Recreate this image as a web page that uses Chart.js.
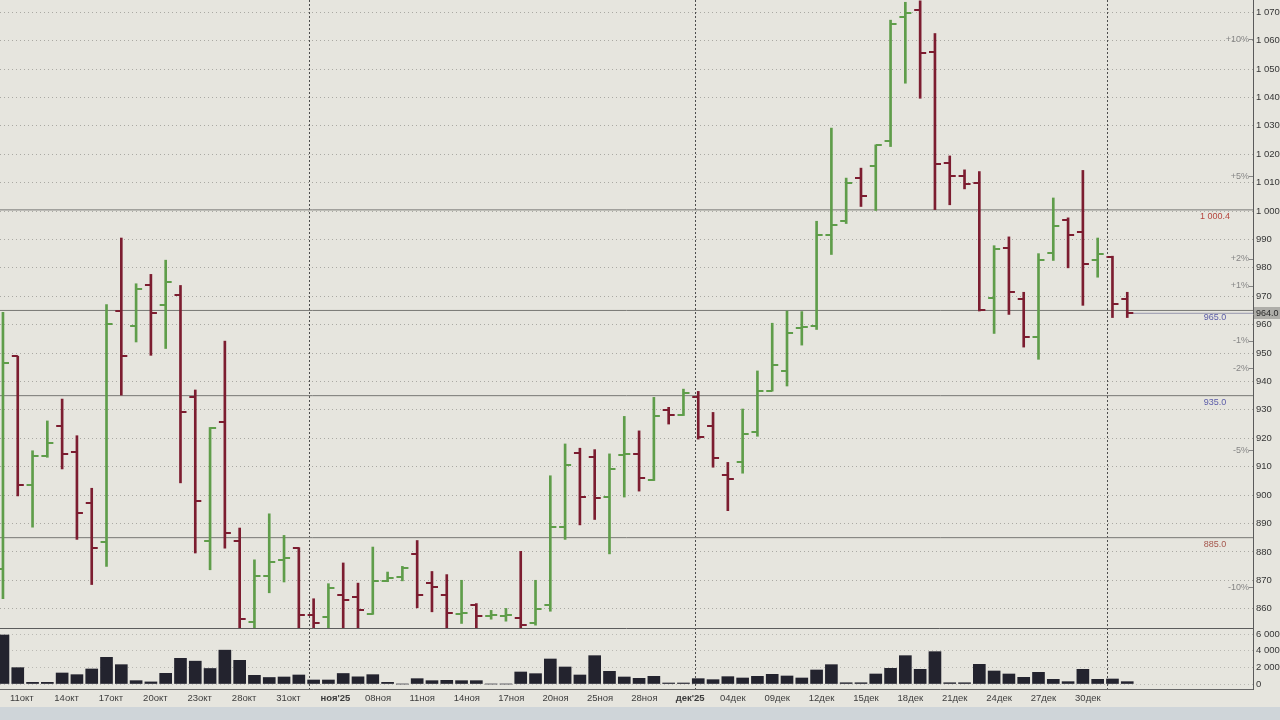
<!DOCTYPE html>
<html lang="ru">
<head>
<meta charset="utf-8">
<title>Бары и объём</title>
<script src="https://cdn.jsdelivr.net/npm/chart.js@4.4.1/dist/chart.umd.min.js"></script>
<style>
    html, body { margin: 0; padding: 0; background: #cfd5d9; }
    #quadro { position: relative; width: 1280px; height: 707px; background: #e6e5de; }
</style>
</head>
<body>
<div id="quadro"><canvas id="grafico"></canvas></div>
<script>
const tickLabels = ['11окт', '14окт', '17окт', '20окт', '23окт', '28окт', '31окт', "ноя'25", '08ноя', '11ноя',
    '14ноя', '17ноя', '20ноя', '25ноя', '28ноя', "дек'25", '04дек', '09дек', '12дек', '15дек',
    '18дек', '21дек', '24дек', '27дек', '30дек'];

const opens = [874.0, 948.9, 903.6, 913.6, 924.2, 915.0, 897.2, 883.4, 964.7, 959.5,
    973.8, 966.8, 970.6, 934.4, 883.8, 925.9, 883.8, 855.4, 871.5, 877.3,
    881.3, 857.9, 857.1, 864.7, 864.1, 858.1, 869.8, 871.2, 879.1, 869.1,
    864.7, 858.2, 861.2, 857.5, 857.6, 856.8, 854.8, 861.4, 888.7, 914.8,
    913.3, 899.3, 914.0, 914.5, 905.3, 929.9, 928.1, 934.4, 924.4, 907.1,
    911.7, 922.1, 936.7, 943.7, 958.9, 959.7, 991.7, 996.4, 1011.6, 1016.0,
    1024.8, 1068.3, 1070.9, 1056.1, 1016.9, 1012.2, 1009.9, 969.5, 987.0, 969.1,
    955.6, 985.3, 997.0, 992.5, 982.9, 983.9, 969.1];

const highs = [964.3, 948.9, 915.6, 926.1, 933.8, 920.9, 902.4, 967.1, 990.5, 974.4,
    977.7, 982.7, 973.8, 937.0, 923.8, 954.2, 888.4, 877.2, 893.4, 885.8,
    881.5, 863.5, 868.8, 876.1, 869.0, 881.7, 872.9, 874.9, 884.0, 873.1,
    872.0, 870.0, 861.8, 859.4, 860.1, 880.2, 870.0, 906.8, 918.0, 916.5,
    916.0, 914.5, 927.7, 922.6, 934.4, 930.9, 937.3, 936.5, 929.1, 911.5,
    930.3, 943.7, 960.5, 964.8, 964.6, 996.4, 1029.2, 1011.6, 1015.1, 1023.3,
    1067.2, 1073.5, 1074.0, 1062.5, 1019.4, 1014.5, 1013.9, 987.8, 990.9, 971.4,
    985.0, 1004.6, 997.6, 1014.3, 990.5, 984.1, 971.4];

const lows = [863.5, 899.7, 888.7, 913.3, 909.2, 884.4, 868.5, 874.9, 935.2, 953.9,
    949.2, 951.6, 904.3, 879.6, 873.7, 881.3, 853.3, 853.3, 865.6, 869.4,
    853.3, 853.3, 853.3, 853.3, 853.3, 858.0, 869.5, 869.8, 860.3, 858.9,
    853.3, 854.8, 853.3, 856.3, 855.6, 853.3, 854.2, 859.1, 884.4, 889.5,
    891.4, 879.3, 899.3, 901.4, 905.1, 925.0, 928.0, 919.7, 909.8, 894.5,
    907.7, 920.7, 936.6, 938.4, 952.8, 958.3, 984.7, 995.6, 1001.6, 1000.2,
    1022.7, 1045.0, 1039.7, 1000.5, 1002.2, 1007.8, 964.8, 956.9, 963.6, 952.1,
    947.8, 982.6, 980.0, 966.8, 976.7, 962.5, 962.5];

const closes = [946.4, 903.6, 913.9, 918.3, 914.5, 893.6, 881.4, 960.4, 948.9, 972.6,
    964.2, 975.1, 929.3, 897.8, 923.6, 886.7, 856.2, 871.5, 876.6, 877.9,
    857.7, 855.0, 867.3, 862.9, 859.7, 869.8, 870.8, 874.5, 864.9, 867.6,
    858.5, 858.6, 857.5, 857.7, 857.9, 854.4, 859.8, 888.7, 910.6, 899.3,
    898.9, 909.2, 914.5, 905.9, 927.7, 928.1, 936.1, 920.3, 913.0, 905.7,
    921.5, 936.7, 945.8, 956.9, 959.3, 991.7, 995.0, 1009.9, 1005.4, 1023.1,
    1065.8, 1069.8, 1055.5, 1016.6, 1012.5, 1009.6, 965.1, 986.7, 971.4, 955.6,
    982.6, 994.9, 991.7, 981.5, 985.0, 967.1, 964.0];

// объём, тыс.
const volumes = [5880, 1960, 200, 200, 1320, 1120, 1800, 3200, 2320, 400,
    250, 1280, 3080, 2740, 1860, 4060, 2840, 1040, 780, 840,
    1080, 480, 480, 1260, 860, 1120, 200, 0, 640, 400,
    440, 400, 400, 0, 0, 1440, 1240, 3000, 2040, 1080,
    3400, 1520, 840, 680, 920, 120, 120, 640, 520, 880,
    720, 920, 1160, 960, 720, 1680, 2320, 150, 150, 1200,
    1880, 3400, 1760, 3880, 150, 150, 2360, 1560, 1200, 800,
    1400, 560, 280, 1760, 560, 600, 280];

const volumeTicks = [0, 2000, 4000, 6000];
const levels = [1000.4, 965.0, 935.0, 885.0];
const levelLabels = ['1 000.4', '965.0', '935.0', '885.0'];
const percentSteps = [10, 5, 2, 1, -1, -2, -5, -10];
const monthBreaks = [20.7, 46.8, 74.65];

const COR_ALTA = '#5f9d4a';
const COR_BAIXA = '#7c1d30';
const COR_VOLUME = '#23232e';
const CORES_NIVEIS = ['#b5463f', '#5b5ca8', '#5b5ca8', '#a5564c'];
const FONTE = '"Liberation Sans", Arial, sans-serif';

Chart.defaults.font.family = FONTE;

const indices = opens.map((_, i) => i);
const ultimoFechamento = closes[closes.length - 1];
const ehAlta = i => closes[i] >= opens[i];

function criarRisco(cor, lado) {
    const tela = document.createElement('canvas');
    tela.width = 14;
    tela.height = 2;
    const g = tela.getContext('2d');
    g.fillStyle = cor;
    g.fillRect(lado === 'esquerda' ? 1 : 7, 0, 6, 2);
    return tela;
}

const riscos = {
    altaEsq: criarRisco(COR_ALTA, 'esquerda'),
    altaDir: criarRisco(COR_ALTA, 'direita'),
    baixaEsq: criarRisco(COR_BAIXA, 'esquerda'),
    baixaDir: criarRisco(COR_BAIXA, 'direita')
};

function formatarMilhar(valor) {
    return Math.round(valor).toString().replace(/\B(?=(\d{3})+(?!\d))/g, ' ');
}

// tira o recuo automático que o Chart.js reserva para os rótulos das pontas
function semRecuo(escala) {
    escala.paddingTop = 0;
    escala.paddingBottom = 0;
    escala.paddingLeft = 0;
    escala.paddingRight = 0;
}

const pluginSobreposicoes = {
    id: 'sobreposicoes',
    afterDatasetsDraw(chart) {
        const { ctx, chartArea, scales: { y } } = chart;
        ctx.save();

        const yPainel = Math.round(y.bottom) + 0.5;
        ctx.strokeStyle = '#5c5c5c';
        ctx.lineWidth = 1;
        ctx.beginPath();
        ctx.moveTo(chartArea.left, yPainel);
        ctx.lineTo(chartArea.right, yPainel);
        ctx.stroke();

        ctx.font = `9px ${FONTE}`;
        ctx.textAlign = 'center';
        ctx.textBaseline = 'middle';
        levels.forEach((nivel, k) => {
            ctx.fillStyle = CORES_NIVEIS[k];
            ctx.fillText(levelLabels[k], chartArea.right - 38, y.getPixelForValue(nivel) + 7);
        });

        ctx.textAlign = 'right';
        ctx.fillStyle = '#858585';
        percentSteps.forEach(p => {
            const py = y.getPixelForValue(ultimoFechamento * (1 + p / 100));
            ctx.fillText((p > 0 ? '+' : '') + p + '%', chartArea.right - 4, py);
            ctx.fillRect(chartArea.right - 4, Math.round(py), 4, 1);
        });
        ctx.restore();
    },
    afterDraw(chart) {
        const { ctx, chartArea, scales: { y } } = chart;
        const py = y.getPixelForValue(ultimoFechamento);
        ctx.save();
        ctx.fillStyle = '#aeada8';
        ctx.fillRect(chartArea.right + 1, Math.round(py) - 6, 27, 12);
        ctx.fillStyle = '#2a2a2a';
        ctx.font = `9px ${FONTE}`;
        ctx.textAlign = 'left';
        ctx.textBaseline = 'middle';
        ctx.fillText(ultimoFechamento.toFixed(1), chartArea.right + 3, py);
        ctx.restore();
    }
};

const conjuntosNiveis = levels.map(nivel => ({
    type: 'line',
    label: String(nivel),
    data: [{ x: -5, y: nivel }, { x: 200, y: nivel }],
    borderColor: '#777774',
    borderWidth: 1,
    pointRadius: 0,
    yAxisID: 'y',
    order: 5
}));

new Chart(document.getElementById('grafico'), {
    type: 'bar',
    data: {
        datasets: [
            {
                type: 'bar',
                label: 'Диапазон',
                data: indices.map(i => ({ x: i, y: [lows[i], highs[i]] })),
                backgroundColor: indices.map(i => ehAlta(i) ? COR_ALTA : COR_BAIXA),
                barThickness: 2,
                grouped: false,
                yAxisID: 'y',
                order: 2
            },
            {
                type: 'line',
                label: 'Открытие',
                data: indices.map(i => ({ x: i, y: opens[i] })),
                showLine: false,
                pointStyle: indices.map(i => ehAlta(i) ? riscos.altaEsq : riscos.baixaEsq),
                pointRadius: 3,
                yAxisID: 'y',
                order: 1
            },
            {
                type: 'line',
                label: 'Закрытие',
                data: indices.map(i => ({ x: i, y: closes[i] })),
                showLine: false,
                pointStyle: indices.map(i => ehAlta(i) ? riscos.altaDir : riscos.baixaDir),
                pointRadius: 3,
                yAxisID: 'y',
                order: 1
            },
            {
                type: 'bar',
                label: 'Объём',
                data: indices.map(i => ({ x: i, y: volumes[i] })),
                backgroundColor: COR_VOLUME,
                barThickness: 12,
                grouped: false,
                yAxisID: 'vol',
                order: 3
            },
            {
                type: 'line',
                label: 'Последняя',
                data: [{ x: indices.length - 1, y: ultimoFechamento }, { x: 200, y: ultimoFechamento }],
                borderColor: '#9696ad',
                borderWidth: 1,
                pointRadius: 0,
                yAxisID: 'y',
                order: 4
            },
            ...conjuntosNiveis
        ]
    },
    options: {
        responsive: true,
        maintainAspectRatio: false,
        animation: false,
        events: [],
        layout: { padding: 0, autoPadding: false },
        plugins: {
            legend: { display: false },
            tooltip: { enabled: false }
        },
        scales: {
            x: {
                type: 'linear',
                position: 'bottom',
                min: -0.2,
                max: 84.5,
                offset: false,
                afterBuildTicks: escala => { escala.ticks = tickLabels.map((_, k) => ({ value: k * 3 })); },
                afterFit: escala => { escala.height = 18; semRecuo(escala); },
                grid: { display: false, drawTicks: false, offset: false },
                border: { display: true, color: '#676767' },
                ticks: {
                    autoSkip: false,
                    maxRotation: 0,
                    align: 'start',
                    labelOffset: 7,
                    padding: 4,
                    color: '#3c3c3c',
                    font: ctx => ({ size: 9.5, weight: (tickLabels[ctx.index] || '').includes("'") ? 'bold' : 'normal' }),
                    callback: (valor, k) => tickLabels[k]
                }
            },
            meses: {
                type: 'linear',
                position: 'bottom',
                min: -0.2,
                max: 84.5,
                offset: false,
                afterBuildTicks: escala => { escala.ticks = monthBreaks.map(v => ({ value: v })); },
                afterFit: escala => { escala.height = 0; semRecuo(escala); },
                ticks: { display: false },
                grid: { color: '#4d4d4d', lineWidth: 1, drawTicks: false, offset: false },
                border: { display: false, dash: [2, 2] }
            },
            y: {
                type: 'linear',
                position: 'right',
                stack: 'paineis',
                stackWeight: 628,
                min: 853.2,
                max: 1074.3,
                afterFit: escala => { escala.width = 27; semRecuo(escala); },
                grid: { color: 'rgba(120, 120, 115, 0.55)', drawTicks: false },
                border: { display: true, color: '#5a5a5a', dash: [1, 3] },
                ticks: {
                    stepSize: 10,
                    includeBounds: false,
                    autoSkip: false,
                    padding: 3,
                    color: '#363636',
                    font: { size: 9.5 },
                    callback: valor => formatarMilhar(valor)
                }
            },
            vol: {
                type: 'linear',
                position: 'right',
                stack: 'paineis',
                stackWeight: 61,
                min: -600,
                max: 6720,
                afterBuildTicks: escala => { escala.ticks = volumeTicks.map(v => ({ value: v })); },
                afterFit: escala => { escala.width = 27; semRecuo(escala); },
                grid: { color: 'rgba(120, 120, 115, 0.4)', drawTicks: false },
                border: { display: true, color: '#5a5a5a', dash: [1, 3] },
                ticks: {
                    autoSkip: false,
                    padding: 3,
                    color: '#363636',
                    font: { size: 9.5 },
                    callback: valor => formatarMilhar(valor * 1000)
                }
            }
        }
    },
    plugins: [pluginSobreposicoes]
});
</script>
</body>
</html>
